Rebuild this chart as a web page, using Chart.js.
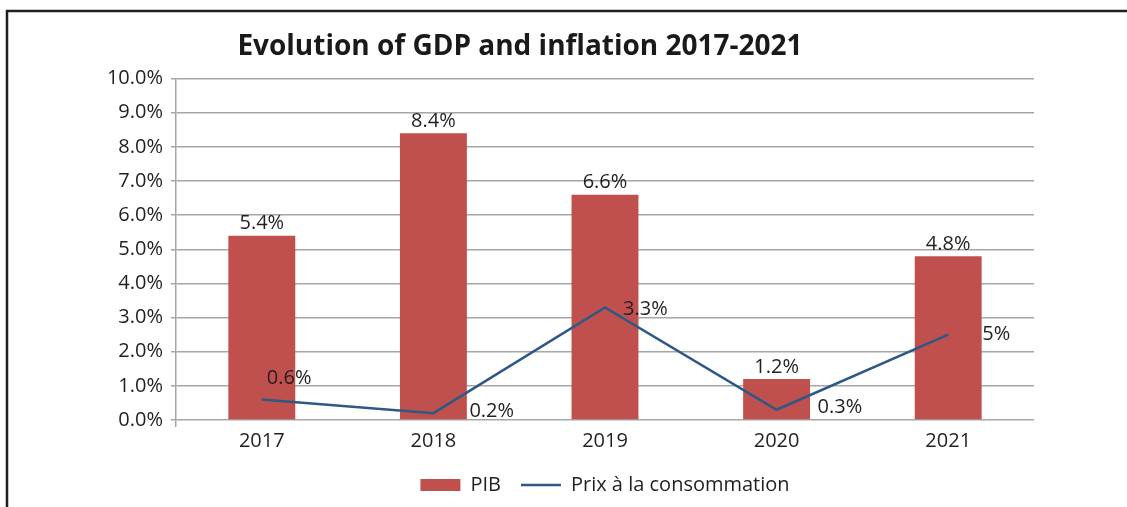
<!DOCTYPE html>
<html>
<head>
<meta charset="utf-8">
<script src="https://cdn.jsdelivr.net/npm/chart.js@4"></script>
<style>
  html, body { margin: 0; padding: 0; background: #fff; }
  #wrap { width: 1127px; height: 507px; }
</style>
</head>
<body>
<div id="wrap"><canvas id="c" width="1127" height="507"></canvas></div>
<script>
// Years on the category axis
const years = ['2017', '2018', '2019', '2020', '2021'];
// Real GDP growth (%)
const pib = [5.4, 8.4, 6.6, 1.2, 4.8];
// Consumer price inflation (%)
const prix = [0.6, 0.2, 3.3, 0.3, 2.5];
// Text shown next to each inflation point
const prixLabels = ['0.6%', '0.2%', '3.3%', '0.3%', '5%'];
// Y axis ticks
const yTicks = [0, 1, 2, 3, 4, 5, 6, 7, 8, 9, 10];

const FONT = '"Open Sans", "Noto Sans", sans-serif';
const TXT = '#231f20';
const GRID = '#a6a6a6';

// Outer frame (left and top edges) around the figure
const framePlugin = {
  id: 'frame',
  beforeDraw(chart) {
    const ctx = chart.ctx;
    ctx.save();
    ctx.fillStyle = '#fff';
    ctx.fillRect(0, 0, chart.width, chart.height);
    ctx.strokeStyle = '#231f20';
    ctx.lineWidth = 2.5;
    ctx.beginPath();
    ctx.moveTo(7, chart.height + 2);
    ctx.lineTo(7, 11);
    ctx.lineTo(chart.width + 2, 11);
    ctx.stroke();
    ctx.restore();
  }
};

// Value labels for bars (above) and for the line (offset per point)
const lineLabelOffsets = [[5, -21], [36, -2], [18, 2], [41, -2], [34, 0]];
const valueLabels = {
  id: 'valueLabels',
  afterDatasetsDraw(chart) {
    const ctx = chart.ctx;
    ctx.save();
    ctx.font = '20px ' + FONT;
    ctx.fillStyle = TXT;
    ctx.textBaseline = 'middle';
    const barMeta = chart.getDatasetMeta(0);
    ctx.textAlign = 'center';
    barMeta.data.forEach((el, i) => {
      ctx.fillText(pib[i].toFixed(1) + '%', el.x, el.y - 12);
    });
    const lineMeta = chart.getDatasetMeta(1);
    ctx.textAlign = 'left';
    lineMeta.data.forEach((el, i) => {
      const [dx, dy] = lineLabelOffsets[i];
      ctx.fillText(prixLabels[i], el.x + dx, el.y + dy);
    });
    ctx.restore();
  }
};

new Chart(document.getElementById('c'), {
  type: 'bar',
  data: {
    labels: years,
    datasets: [
      {
        label: 'PIB',
        data: pib,
        backgroundColor: '#c0504d',
        borderWidth: 0,
        barPercentage: 0.39,
        categoryPercentage: 1,
        pointStyle: 'rect',
        order: 2
      },
      {
        type: 'line',
        label: 'Prix à la consommation',
        data: prix,
        borderColor: '#2c5985',
        backgroundColor: '#2c5985',
        borderWidth: 2.5,
        pointRadius: 0,
        tension: 0,
        pointStyle: 'line',
        order: 1
      }
    ]
  },
  options: {
    responsive: false,
    animation: false,
    layout: { padding: { left: 6, right: 93, top: 0, bottom: 2 } },
    plugins: {
      tooltip: { enabled: false },
      title: {
        display: true,
        text: 'Evolution of GDP and inflation 2017-2021',
        color: '#1a1a1a',
        font: { family: FONT, size: 28, weight: 'bold' },
        padding: { top: 30, bottom: 15 }
      },
      legend: {
        position: 'bottom',
        fullSize: false,
        labels: {
          sort: (a, b) => a.datasetIndex - b.datasetIndex,
          usePointStyle: true,
          pointStyleWidth: 40,
          boxHeight: 12,
          padding: 20,
          color: TXT,
          font: { family: FONT, size: 20 }
        }
      }
    },
    scales: {
      x: {
        grid: {
          offset: true,
          drawOnChartArea: false,
          tickLength: 7,
          color: (c) => (c.index === 0 ? GRID : 'rgba(0,0,0,0)'),
          lineWidth: 1.5
        },
        border: { display: false },
        ticks: { color: TXT, font: { family: FONT, size: 20 }, padding: 2 }
      },
      y: {
        min: 0,
        max: 10,
        afterBuildTicks: (s) => { s.ticks = yTicks.map(v => ({ value: v })); },
        afterFit: (s) => { s.width = 170; },
        grid: { color: GRID, lineWidth: 1.5, tickLength: 5 },
        border: { color: GRID, width: 1.5 },
        ticks: {
          color: TXT,
          font: { family: FONT, size: 20 },
          padding: 8,
          callback: (v) => v.toFixed(1) + '%'
        }
      }
    }
  },
  plugins: [framePlugin, valueLabels]
});
</script>
</body>
</html>
